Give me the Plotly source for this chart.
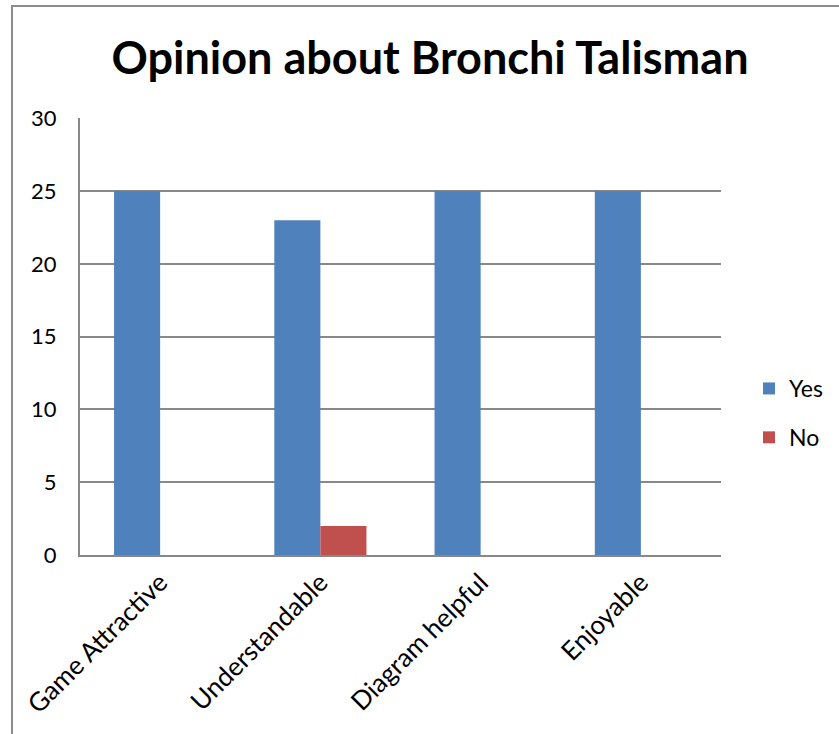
import plotly.graph_objects as go

categories = ["Game Attractive", "Understandable", "Diagram helpful", "Enjoyable"]
yes_values = [25, 23, 25, 25]
no_values = [0, 2, 0, 0]
y_ticks = [0, 5, 10, 15, 20, 25, 30]

W, H = 839, 734
ML, MR, MT, MB = 80, 118, 118, 179

fig = go.Figure()
fig.add_trace(go.Bar(name="Yes", x=categories, y=yes_values, legendgroup="a",
                     marker=dict(color="#4F81BD", line=dict(width=0))))
fig.add_trace(go.Bar(name="No", x=categories, y=no_values, legendgroup="b",
                     marker=dict(color="#C0504D", line=dict(width=0))))

font_family = "Lato, 'Open Sans', sans-serif"

# outer frame: left and top edges visible, right/bottom run off the page
pw, ph = W - ML - MR, H - MT - MB
x0 = (12 - ML) / pw
x1 = (W + 20 - ML) / pw
y1 = 1 + (MT - 6) / ph
y0 = -(MB + 20) / ph

fig.update_layout(
    width=W, height=H,
    margin=dict(l=ML, r=MR, t=MT, b=MB, autoexpand=False),
    paper_bgcolor="white", plot_bgcolor="white",
    barmode="group", bargap=0.425, bargroupgap=0,
    title=dict(text="<b>Opinion about Bronchi Talisman</b>",
               x=430 / W, xanchor="center", xref="container",
               y=1 - 58 / H, yanchor="middle",
               font=dict(family=font_family, size=45, color="black")),
    font=dict(family=font_family, size=22, color="black"),
    showlegend=True,
    legend=dict(x=1 + (749 - (W - MR)) / pw, xanchor="left",
                y=1 - (413 - MT) / ph, yanchor="middle",
                font=dict(size=23), tracegroupgap=16, itemsizing="constant",
                itemwidth=30, bgcolor="rgba(0,0,0,0)"),
    xaxis=dict(showline=True, linecolor="#888888", linewidth=2,
               tickangle=-45, ticks="", tickfont=dict(size=26),
               showgrid=False, automargin=False),
    yaxis=dict(range=[0, 30.02], tickvals=y_ticks, showgrid=True,
               gridcolor="#888888", gridwidth=1.5,
               showline=True, linecolor="#888888", linewidth=2,
               ticks="", tickfont=dict(size=22), ticklabelstandoff=17,
               zeroline=False, automargin=False),
    shapes=[dict(type="rect", xref="paper", yref="paper",
                 x0=x0, x1=x1, y0=y0, y1=y1,
                 line=dict(color="#8c8c8c", width=2), layer="below")],
)

fig.write_html("out.html")
